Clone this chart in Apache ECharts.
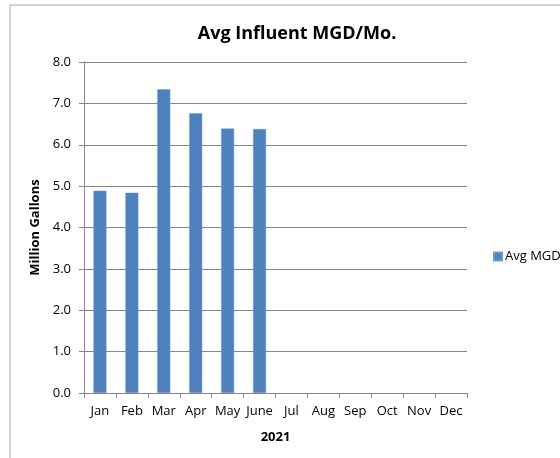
<!DOCTYPE html>
<html lang="en">
<head>
  <meta charset="UTF-8">
  <title>Avg Influent MGD/Mo.</title>
  <script src="https://cdn.jsdelivr.net/npm/echarts@6/dist/echarts.min.js"></script>
  <style>
    html, body { margin: 0; padding: 0; background: #fff; }
  </style>
</head>
<body>
<div id="main" style="width: 560px;height:458px;"></div>
<script type="text/javascript">

const months = ['Jan', 'Feb', 'Mar', 'Apr', 'May', 'June', 'Jul', 'Aug', 'Sep', 'Oct', 'Nov', 'Dec'];
const avgMgd = [4.89, 4.84, 7.34, 6.76, 6.39, 6.38, null, null, null, null, null, null];
const yTicks = [0, 1, 2, 3, 4, 5, 6, 7, 8];

const font = '"Open Sans", "Noto Sans", sans-serif';
const myChart = echarts.init(document.getElementById('main'));

const option = {
  animation: false,
  backgroundColor: '#fff',
  graphic: [
    {
      type: 'rect',
      shape: {x: 10, y: 5, width: 600, height: 500},
      style: {fill: 'none', stroke: '#a6a6a6', lineWidth: 1}
    }
  ],
  title: {
    text: 'Avg Influent MGD/Mo.',
    left: 292,
    top: 20,
    textAlign: 'center',
    textStyle: {fontFamily: font, fontSize: 18, fontWeight: 'bold', color: '#000'}
  },
  legend: {
    data: ['Avg MGD'],
    left: 488,
    top: 245,
    icon: 'rect',
    itemWidth: 8,
    itemHeight: 8,
    itemGap: 4,
    textStyle: {fontFamily: font, fontSize: 13, color: '#000', padding: [0, 0, 0, -2]}
  },
  grid: {
    left: 84,
    right: 93,
    top: 62,
    bottom: 65,
    containLabel: false
  },
  xAxis: {
    type: 'category',
    data: months,
    name: '2021',
    nameLocation: 'middle',
    nameGap: 38,
    nameTextStyle: {fontFamily: font, fontSize: 13, fontWeight: 'bold', color: '#000'},
    axisLine: {lineStyle: {color: '#868686'}},
    axisTick: {show: true, alignWithLabel: false, length: 5, lineStyle: {color: '#868686'}},
    axisLabel: {fontFamily: font, fontSize: 13, color: '#000', margin: 12, interval: 0}
  },
  yAxis: {
    type: 'value',
    min: yTicks[0],
    max: yTicks[yTicks.length - 1],
    interval: 1,
    name: 'Million Gallons',
    nameLocation: 'middle',
    nameGap: 40,
    nameRotate: 90,
    nameTextStyle: {fontFamily: font, fontSize: 13, fontWeight: 'bold', color: '#000'},
    axisLine: {show: true, lineStyle: {color: '#868686'}},
    axisTick: {show: true, length: 5, lineStyle: {color: '#868686'}},
    axisLabel: {
      fontFamily: font,
      fontSize: 13,
      color: '#000',
      margin: 13,
      formatter: v => v.toFixed(1)
    },
    splitLine: {show: true, lineStyle: {color: '#868686', width: 1}}
  },
  series: [
    {
      name: 'Avg MGD',
      type: 'bar',
      data: avgMgd,
      barWidth: 13,
      itemStyle: {color: '#4f81bd', borderColor: '#6f9ad0', borderWidth: 0.5}
    }
  ]
};
myChart.setOption(option);
</script>
</body>
</html>
